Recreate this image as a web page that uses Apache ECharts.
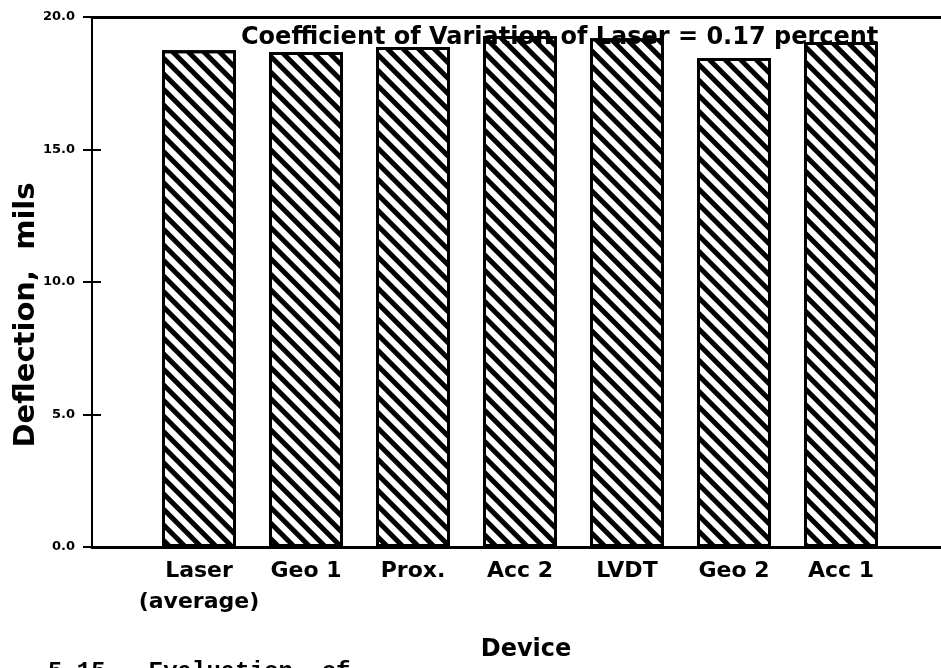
<!DOCTYPE html>
<html>
<head>
<meta charset="utf-8">
<script src="https://cdn.jsdelivr.net/npm/echarts@6/dist/echarts.min.js"></script>
<style>html,body{margin:0;padding:0;background:#fff}#c{width:941px;height:668px}</style>
</head>
<body>
<div id="c"></div>
<script>
const categories = ['Laser\n(average)', 'Geo 1', 'Prox.', 'Acc 2', 'LVDT', 'Geo 2', 'Acc 1'];
const deflection = [18.75, 18.68, 18.87, 19.28, 19.2, 18.45, 19.06];
const yTicks = [0, 5, 10, 15, 20];
const annotation = 'Coefficient of Variation of Laser = 0.17 percent';
const caption = '5-15.  Evaluation  of';

const FONT = '"DejaVu Sans", "Liberation Sans", sans-serif';
const chart = echarts.init(document.getElementById('c'));
const xMax = 849 / 107;
chart.setOption({
  animation: false,
  backgroundColor: '#fff',
  title: {
    text: annotation,
    left: 236, top: 21,
    textStyle: {fontFamily: FONT, fontWeight: 'bold', fontSize: 24, color: '#000'}
  },
  graphic: [{
    type: 'text', left: 48, top: 660,
    style: {text: caption, font: 'bold 24px "Liberation Mono", monospace', fill: '#000'}
  }],
  grid: {left: 92, right: 0, top: 17, bottom: 121, containLabel: false, outerBoundsMode: 'none'},
  xAxis: [{
    type: 'value', min: 0, max: xMax, interval: 1,
    axisLine: {show: true, onZero: false, lineStyle: {color: '#000', width: 3}},
    axisTick: {show: false},
    splitLine: {show: false},
    axisLabel: {
      showMaxLabel: false, margin: 9,
      fontFamily: FONT, fontWeight: 'bold', fontSize: 22, color: '#000', lineHeight: 31,
      formatter: v => (v >= 1 && v <= categories.length) ? categories[v - 1] : ''
    },
    name: 'Device', nameLocation: 'middle', nameGap: 91, nameMoveOverlap: false,
    nameTextStyle: {fontFamily: FONT, fontWeight: 'bold', fontSize: 24, color: '#000', padding: [0, 0, 0, 19]}
  }, {
    type: 'value', position: 'top', min: 0, max: xMax,
    axisLine: {show: true, onZero: false, lineStyle: {color: '#000', width: 3}},
    axisTick: {show: false}, axisLabel: {show: false}, splitLine: {show: false}
  }],
  yAxis: [{
    type: 'value', min: 0, max: 20, interval: 5,
    axisLine: {show: true, lineStyle: {color: '#000', width: 2}},
    axisTick: {show: true, length: 9, lineStyle: {color: '#000', width: 2}},
    splitLine: {show: false},
    axisLabel: {
      margin: 17, fontFamily: FONT, fontWeight: 'bold', fontSize: 13, color: '#000',
      formatter: v => yTicks.includes(v) ? v.toFixed(1) : ''
    },
    name: 'Deflection,  mils', nameLocation: 'middle', nameGap: 51, nameMoveOverlap: false,
    nameTextStyle: {fontFamily: FONT, fontWeight: 'bold', fontSize: 29, color: '#000', padding: [0, 66, 0, 0]}
  }, {
    type: 'value', position: 'left', min: 0, max: 20, interval: 5,
    axisLine: {show: false},
    axisTick: {show: true, inside: true, length: 9, lineStyle: {color: '#000', width: 2}},
    axisLabel: {show: false}, splitLine: {show: false}
  }],
  series: [{
    type: 'bar',
    barWidth: 74,
    data: deflection.map((v, i) => [i + 1, v]),
    itemStyle: {
      color: '#fff', borderColor: '#000', borderWidth: 3,
      decal: {
        symbol: 'rect', symbolSize: 1, symbolKeepAspect: false,
        color: '#000', dashArrayX: [[1, 0]], dashArrayY: [5, 6],
        rotation: Math.PI / 4
      }
    }
  }]
});
</script>
</body>
</html>
